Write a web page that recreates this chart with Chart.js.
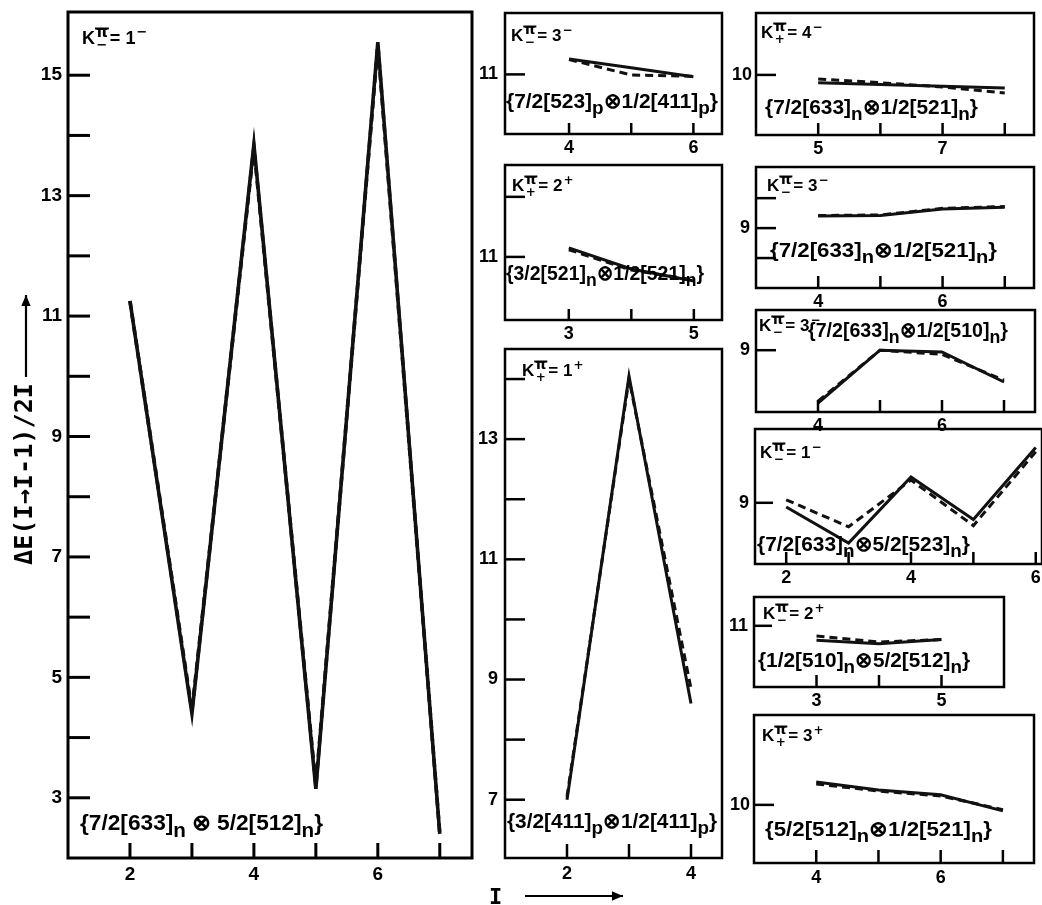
<!DOCTYPE html>
<html>
<head>
<meta charset="utf-8">
<script src="https://cdn.jsdelivr.net/npm/chart.js@4.4.0/dist/chart.umd.min.js"></script>
<style>
body { margin: 0; background: #fff; }
#wrap { position: relative; width: 1042px; height: 905px; overflow: hidden; }
canvas { position: absolute; left: 0; top: 0; }
</style>
</head>
<body>
<div id="wrap"></div>
<script>
// big panel, K=1- {7/2[633]n x 5/2[512]n}
const spinA = [2, 3, 4, 5, 6, 7];
const solidA = [11.25, 4.4, 13.85, 3.15, 15.55, 2.4];
const dashA = [11.25, 4.45, 13.8, 3.2, 15.5, 2.4];
const xTickA = [2, 3, 4, 5, 6, 7];
const xLabA = [2, 4, 6];
const yTickA = [3, 4, 5, 6, 7, 8, 9, 10, 11, 12, 13, 14, 15];
const yLabA = [3, 5, 7, 9, 11, 13, 15];

// middle column
const spinB = [4, 5, 6];
const solidB = [11.26, 11.11, 10.96];
const dashB = [11.25, 10.99, 10.97];

const spinC = [3, 4, 5];
const solidC = [11.15, 10.8, 10.6];
const dashC = [11.12, 10.78, 10.62];

const spinD = [2, 3, 4];
const solidD = [7.0, 14.05, 8.6];
const dashD = [7.05, 14.0, 8.85];

// right column
const spinE = [5, 6, 7, 8];
const solidE = [9.87, 9.84, 9.81, 9.78];
const dashE = [9.93, 9.87, 9.8, 9.7];

const spinF = [4, 5, 6, 7];
const solidF = [9.2, 9.21, 9.32, 9.35];
const dashF = [9.21, 9.22, 9.33, 9.36];

const spinG = [4, 5, 6, 7];
const solidG = [8.12, 9.0, 8.97, 8.47];
const dashG = [8.15, 9.0, 8.93, 8.5];

const spinH = [2, 3, 4, 5, 6];
const solidH = [8.93, 8.33, 9.43, 8.72, 9.92];
const dashH = [9.05, 8.6, 9.38, 8.62, 9.85];

const spinJ = [3, 4, 5];
const solidJ = [10.76, 10.7, 10.77];
const dashJ = [10.83, 10.73, 10.77];

const spinK = [4, 5, 6, 7];
const solidK = [10.38, 10.25, 10.17, 9.9];
const dashK = [10.35, 10.23, 10.15, 9.92];

const FONT = '"Liberation Sans", Arial, sans-serif';
const wrap = document.getElementById('wrap');

function line(ctx, x1, y1, x2, y2) {
    ctx.beginPath();
    ctx.moveTo(x1, y1);
    ctx.lineTo(x2, y2);
    ctx.stroke();
}

// K^pi_sub = num^sup
function drawK(ctx, k) {
    const size = k.size;
    ctx.textAlign = 'left';
    ctx.textBaseline = 'alphabetic';
    ctx.font = `bold ${size}px ${FONT}`;
    ctx.fillText('K', k.x, k.y);
    let cx = k.x + ctx.measureText('K').width + 1;
    const small = Math.round(size * 0.85);
    ctx.font = `bold ${small}px "DejaVu Sans", sans-serif`;
    const wp = ctx.measureText('π').width;
    ctx.fillText('π', cx, k.y - size * 0.4);
    ctx.fillRect(cx - 1, k.y - size * 0.4 - small * 0.62, wp + 2, 2);
    ctx.font = `bold ${Math.round(size * 0.7)}px "DejaVu Sans", sans-serif`;
    const ws = ctx.measureText(k.sub).width;
    ctx.fillText(k.sub, cx + (wp - ws) / 2, k.y + size * 0.3);
    cx += wp + 2;
    ctx.font = `bold ${size}px ${FONT}`;
    const eq = '= ' + k.num;
    ctx.fillText(eq, cx, k.y);
    cx += ctx.measureText(eq).width + 1;
    ctx.font = `bold ${Math.round(size * 0.7)}px "DejaVu Sans", sans-serif`;
    ctx.fillText(k.sup, cx, k.y - size * 0.42);
}

// configuration text, "_x" = subscript
function drawConf(ctx, c) {
    const segs = [];
    let buf = '';
    for (let i = 0; i < c.text.length; i++) {
        if (c.text[i] === '_') {
            if (buf) segs.push({ t: buf });
            buf = '';
            segs.push({ t: c.text[++i], sub: true });
        } else buf += c.text[i];
    }
    if (buf) segs.push({ t: buf });
    const big = `bold ${c.size}px ${FONT}`;
    const sm = `bold ${Math.round(c.size * 0.9)}px ${FONT}`;
    let total = 0;
    segs.forEach(s => { ctx.font = s.sub ? sm : big; s.w = ctx.measureText(s.t).width; total += s.w; });
    ctx.save();
    ctx.translate(c.x, c.y);
    ctx.scale(c.w / total, 1);
    ctx.textAlign = 'left';
    ctx.textBaseline = 'alphabetic';
    let cx = 0;
    segs.forEach(s => {
        ctx.font = s.sub ? sm : big;
        ctx.fillText(s.t, cx, s.sub ? c.size * 0.3 : 0);
        cx += s.w;
    });
    ctx.restore();
}

function arrow(ctx, x1, y1, x2, y2, head) {
    line(ctx, x1, y1, x2, y2);
    const a = Math.atan2(y2 - y1, x2 - x1);
    ctx.beginPath();
    ctx.moveTo(x2, y2);
    ctx.lineTo(x2 - head * Math.cos(a - 0.4), y2 - head * Math.sin(a - 0.4));
    ctx.lineTo(x2 - head * Math.cos(a + 0.4), y2 - head * Math.sin(a + 0.4));
    ctx.closePath();
    ctx.fill();
}

function makePanel(p) {
    const cv = document.createElement('canvas');
    cv.width = 1042;
    cv.height = 905;
    wrap.appendChild(cv);
    const [l, t, r, b] = p.box;
    const yw = p.yw || 40, xh = 30;
    const lw = p.lw || 3;
    const tickFont = { family: FONT, size: p.fs || 18, weight: 'bold' };

    new Chart(cv, {
        type: 'line',
        data: {
            datasets: [
                { data: p.spin.map((x, i) => ({ x, y: p.solid[i] })), borderColor: '#111', borderWidth: lw, pointRadius: 0, tension: 0 },
                { data: p.spin.map((x, i) => ({ x, y: p.dash[i] })), borderColor: '#111', borderWidth: lw, borderDash: [8, 5], pointRadius: 0, tension: 0 }
            ]
        },
        options: {
            responsive: false,
            animation: false,
            devicePixelRatio: 1,
            layout: { padding: { left: l - yw, top: t, right: 1042 - r, bottom: 905 - b - xh } },
            plugins: { legend: { display: false }, tooltip: { enabled: false } },
            scales: {
                x: {
                    type: 'linear', min: p.xr[0], max: p.xr[1],
                    grid: { display: false, drawTicks: false },
                    border: { display: false },
                    afterBuildTicks: s => { s.ticks = p.xTick.map(v => ({ value: v })); },
                    afterFit: s => { s.height = xh; s.paddingLeft = 0; s.paddingRight = 0; },
                    ticks: {
                        autoSkip: false, maxRotation: 0, padding: p.xPad || 4, color: '#000', font: tickFont,
                        callback: v => p.xLab.includes(v) ? String(v) : ''
                    }
                },
                y: {
                    type: 'linear', min: p.yr[0], max: p.yr[1],
                    grid: { display: false, drawTicks: false },
                    border: { display: false },
                    afterBuildTicks: s => { s.ticks = p.yTick.map(v => ({ value: v })); },
                    afterFit: s => { s.width = yw; s.paddingTop = 0; s.paddingBottom = 0; },
                    ticks: {
                        autoSkip: false, padding: p.yPad || 5, color: '#000', font: tickFont,
                        callback: v => p.yLab.includes(v) ? String(v) : ''
                    }
                }
            }
        },
        plugins: [{
            id: 'frame',
            afterDraw(chart) {
                const { ctx, chartArea: a, scales: { x, y } } = chart;
                ctx.save();
                ctx.strokeStyle = '#000';
                ctx.fillStyle = '#000';
                ctx.lineWidth = p.frame || 2.5;
                ctx.strokeRect(a.left, a.top, a.right - a.left, a.bottom - a.top);
                p.yTick.forEach(v => {
                    const py = y.getPixelForValue(v);
                    line(ctx, a.left, py, a.left + p.yLen, py);
                });
                p.xTick.forEach(v => {
                    const px = x.getPixelForValue(v);
                    line(ctx, px, a.bottom, px, a.bottom - p.xLen);
                });
                drawK(ctx, p.k);
                drawConf(ctx, p.conf);
                if (p.extra) p.extra(ctx);
                ctx.restore();
            }
        }]
    });
}

makePanel({
    box: [68, 12, 472, 858], xr: [1, 7.52], yr: [2, 16.05],
    spin: spinA, solid: solidA, dash: dashA,
    xTick: xTickA, xLab: xLabA, yTick: yTickA, yLab: yLabA,
    yw: 50, fs: 19, xPad: 5, yPad: 6, yLen: 22, xLen: 15, lw: 3.6, frame: 3,
    k: { x: 82, y: 44, size: 18, sub: '−', num: '1', sup: '−' },
    conf: { text: '{7/2[633]_n ⊗ 5/2[512]_n}', x: 80, y: 830, w: 243, size: 22 },
    extra(ctx) {
        // y axis title
        ctx.save();
        ctx.translate(26, 565);
        ctx.rotate(-Math.PI / 2);
        ctx.font = 'bold 24px "DejaVu Sans Mono", monospace';
        ctx.textBaseline = 'middle';
        ctx.textAlign = 'left';
        const tt = 'ΔE(I→I-1)/2I';
        const w = ctx.measureText(tt).width;
        ctx.save();
        ctx.scale(182 / w, 1);
        ctx.fillText(tt, 0, 0);
        ctx.restore();
        ctx.lineWidth = 2.2;
        arrow(ctx, 188, 0, 270, 0, 12);
        ctx.restore();
    }
});

makePanel({
    box: [505, 13, 722, 134], xr: [2.97, 6.46], yr: [10, 12.03],
    spin: spinB, solid: solidB, dash: dashB,
    xTick: [4, 5, 6], xLab: [4, 6], yTick: [11], yLab: [11],
    xPad: 3, yPad: 7, yLen: 20, xLen: 11,
    k: { x: 511, y: 41, size: 17, sub: '−', num: '3', sup: '−' },
    conf: { text: '{7/2[523]_p⊗1/2[411]_p}', x: 506, y: 108, w: 212, size: 21 }
});

makePanel({
    box: [505, 165, 722, 320], xr: [1.98, 5.45], yr: [9.95, 12.53],
    spin: spinC, solid: solidC, dash: dashC,
    xTick: [3, 4, 5], xLab: [3, 5], yTick: [11, 12], yLab: [11],
    xPad: 3, yPad: 7, yLen: 20, xLen: 11,
    k: { x: 512, y: 191, size: 17, sub: '+', num: '2', sup: '+' },
    conf: { text: '{3/2[521]_n⊗1/2[521]_n}', x: 506, y: 280, w: 198, size: 21 }
});

makePanel({
    box: [505, 349, 722, 858], xr: [1, 4.5], yr: [6.03, 14.5],
    spin: spinD, solid: solidD, dash: dashD,
    xTick: [2, 3, 4], xLab: [2, 4], yTick: [7, 8, 9, 10, 11, 12, 13, 14], yLab: [7, 9, 11, 13],
    xPad: 5, yPad: 7, yLen: 20, xLen: 14,
    k: { x: 522, y: 376, size: 17, sub: '+', num: '1', sup: '+' },
    conf: { text: '{3/2[411]_p⊗1/2[411]_p}', x: 507, y: 828, w: 210, size: 21 },
    extra(ctx) {
        // x axis title
        ctx.font = 'bold 22px "DejaVu Sans Mono", monospace';
        ctx.textBaseline = 'alphabetic';
        ctx.textAlign = 'left';
        ctx.fillText('I', 489, 904);
        ctx.lineWidth = 2.2;
        arrow(ctx, 525, 896, 623, 896, 12);
    }
});

makePanel({
    box: [756, 13, 1034, 135], xr: [4, 8.47], yr: [9, 11.03],
    spin: spinE, solid: solidE, dash: dashE,
    xTick: [5, 6, 7, 8], xLab: [5, 7], yTick: [10], yLab: [10],
    xPad: 3, yPad: 4, yLen: 20, xLen: 12,
    k: { x: 761, y: 38, size: 17, sub: '+', num: '4', sup: '−' },
    conf: { text: '{7/2[633]_n⊗1/2[521]_n}', x: 765, y: 114, w: 213, size: 21 }
});

makePanel({
    box: [756, 167, 1034, 288], xr: [3, 7.47], yr: [8, 10.02],
    spin: spinF, solid: solidF, dash: dashF,
    xTick: [4, 5, 6, 7], xLab: [4, 6], yTick: [8.5, 9, 9.5], yLab: [9],
    xPad: 3, yPad: 6, yLen: 20, xLen: 12,
    k: { x: 767, y: 191, size: 17, sub: '−', num: '3', sup: '−' },
    conf: { text: '{7/2[633]_n⊗1/2[521]_n}', x: 770, y: 257, w: 227, size: 21 }
});

makePanel({
    box: [756, 310, 1035, 412], xr: [3, 7.5], yr: [7.97, 9.67],
    spin: spinG, solid: solidG, dash: dashG,
    xTick: [4, 5, 6, 7], xLab: [4, 6], yTick: [9], yLab: [9],
    xPad: 3, yPad: 6, yLen: 20, xLen: 12,
    k: { x: 759, y: 331, size: 17, sub: '−', num: '3', sup: '−' },
    conf: { text: '{7/2[633]_n⊗1/2[510]_n}', x: 808, y: 337, w: 200, size: 21 }
});

makePanel({
    box: [755, 429, 1042, 564], xr: [1.5, 6.1], yr: [7.98, 10.23],
    spin: spinH, solid: solidH, dash: dashH,
    xTick: [2, 3, 4, 5, 6], xLab: [2, 4, 6], yTick: [9], yLab: [9],
    xPad: 3, yPad: 6, yLen: 18, xLen: 12,
    k: { x: 760, y: 458, size: 17, sub: '−', num: '1', sup: '−' },
    conf: { text: '{7/2[633]_n⊗5/2[523]_n}', x: 757, y: 551, w: 213, size: 21 }
});

makePanel({
    box: [754, 597, 1004, 687], xr: [2, 6], yr: [9.98, 11.48],
    spin: spinJ, solid: solidJ, dash: dashJ,
    xTick: [3, 4, 5], xLab: [3, 5], yTick: [11], yLab: [11],
    xPad: 3, yPad: 6, yLen: 18, xLen: 12,
    k: { x: 763, y: 619, size: 17, sub: '−', num: '2', sup: '+' },
    conf: { text: '{1/2[510]_n⊗5/2[512]_n}', x: 758, y: 667, w: 212, size: 21 }
});

makePanel({
    box: [754, 715, 1034, 863], xr: [3, 7.5], yr: [9.03, 11.5],
    spin: spinK, solid: solidK, dash: dashK,
    xTick: [4, 5, 6, 7], xLab: [4, 6], yTick: [10], yLab: [10],
    xPad: 4, yPad: 4, yLen: 20, xLen: 13,
    k: { x: 762, y: 741, size: 17, sub: '+', num: '3', sup: '+' },
    conf: { text: '{5/2[512]_n⊗1/2[521]_n}', x: 765, y: 836, w: 227, size: 21 }
});
</script>
</body>
</html>
